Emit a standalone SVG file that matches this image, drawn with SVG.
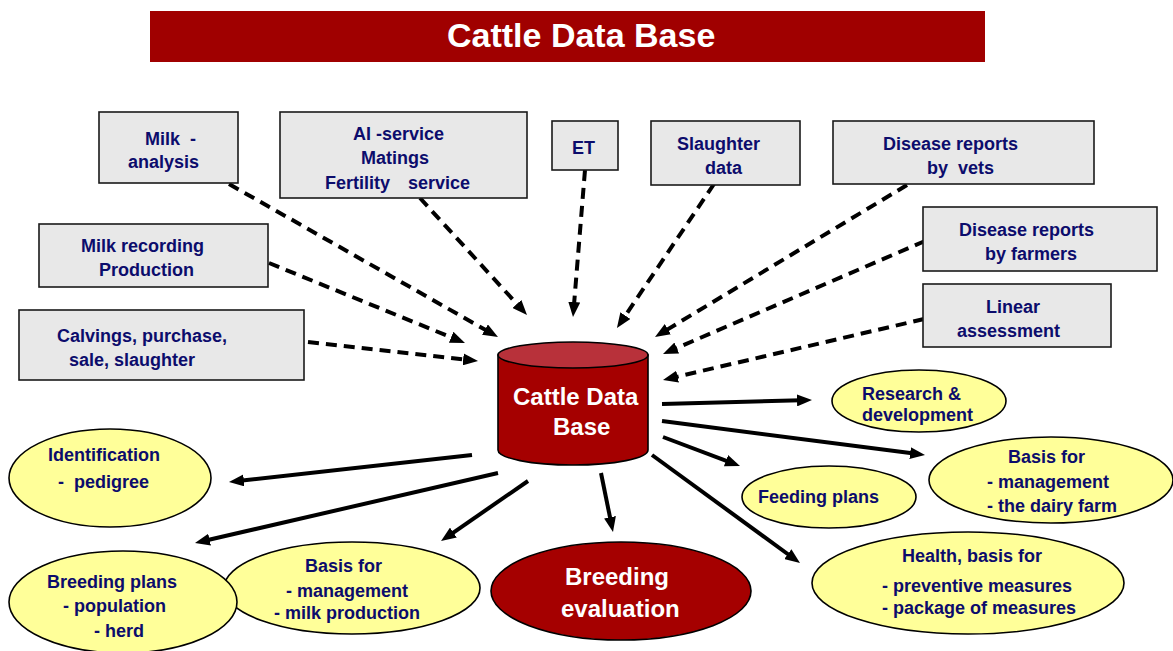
<svg xmlns="http://www.w3.org/2000/svg" width="1173" height="651" viewBox="0 0 1173 651">
<style>
text{white-space:pre}
.t{font-family:"Liberation Sans",Arial,sans-serif;font-weight:bold;font-size:18px;fill:#0c0c6c}
.w{font-family:"Liberation Sans",Arial,sans-serif;font-weight:bold;fill:#ffffff}
.box{fill:#e8e8e8;stroke:#1a1a1a;stroke-width:1.6}
.yel{fill:#ffff99;stroke:#000;stroke-width:1.6}
.dash{stroke:#000;stroke-width:4;fill:none;stroke-dasharray:11 7;marker-end:url(#ah)}
.solid{stroke:#000;stroke-width:4;fill:none;marker-end:url(#ah)}
</style>
<defs>
<marker id="ah" viewBox="0 0 15 12" refX="4" refY="6" markerWidth="15" markerHeight="12" markerUnits="userSpaceOnUse" orient="auto">
<path d="M0,0 L15,6 L0,12 z" fill="#000"/>
</marker>
</defs>
<rect width="1173" height="651" fill="#fff"/>
<g id="title">
<rect x="150" y="11" width="835" height="51" fill="#a00000"/>
<text class="w" x="447" y="47" font-size="34">Cattle Data Base</text>
</g>
<g id="connectors">
<line class="dash" x1="229" y1="184" x2="488.4" y2="331.6"/>
<line class="dash" x1="420" y1="198" x2="519.6" y2="306.9"/>
<line class="dash" x1="585" y1="170" x2="573.9" y2="306"/>
<line class="dash" x1="714" y1="184" x2="623.1" y2="318.9"/>
<line class="dash" x1="907" y1="185" x2="664.4" y2="331.3"/>
<line class="dash" x1="925" y1="241" x2="673.1" y2="349.6"/>
<line class="dash" x1="924" y1="319" x2="673.7" y2="377.5"/>
<line class="dash" x1="269" y1="263" x2="454.8" y2="338.8"/>
<line class="dash" x1="308" y1="342" x2="467.1" y2="359.8"/>
<line class="solid" x1="662" y1="404" x2="801" y2="400.3"/>
<line class="solid" x1="662" y1="421" x2="914.1" y2="453.6"/>
<line class="solid" x1="663" y1="437" x2="729.7" y2="462.1"/>
<line class="solid" x1="652" y1="455" x2="791.1" y2="556.5"/>
<line class="solid" x1="601" y1="473" x2="610.8" y2="521.2"/>
<line class="solid" x1="528" y1="481" x2="450.1" y2="534.8"/>
<line class="solid" x1="498" y1="473" x2="205.7" y2="540.5"/>
<line class="solid" x1="472" y1="455" x2="239.9" y2="480.8"/>
</g>
<g id="milk-analysis">
<rect class="box" x="99" y="112" width="139" height="71"/>
<text class="t" x="145" y="145">Milk  -</text>
<text class="t" x="128" y="168">analysis</text>
</g>
<g id="ai-service">
<rect class="box" x="280" y="112" width="247" height="86"/>
<text class="t" x="353" y="140">AI -service</text>
<text class="t" x="361" y="164">Matings</text>
<text class="t" x="325" y="189">Fertility</text>
<text class="t" x="408" y="189">service</text>
</g>
<g id="et">
<rect class="box" x="552" y="121" width="66" height="49"/>
<text class="t" x="572" y="154">ET</text>
</g>
<g id="slaughter">
<rect class="box" x="651" y="121" width="149" height="64"/>
<text class="t" x="677" y="150">Slaughter</text>
<text class="t" x="705" y="174">data</text>
</g>
<g id="disease-vets">
<rect class="box" x="833" y="121" width="261" height="63"/>
<text class="t" x="883" y="150">Disease reports</text>
<text class="t" x="927" y="174">by  vets</text>
</g>
<g id="disease-farmers">
<rect class="box" x="923" y="207" width="234" height="64"/>
<text class="t" x="959" y="236">Disease reports</text>
<text class="t" x="985" y="260">by farmers</text>
</g>
<g id="linear">
<rect class="box" x="923" y="284" width="188" height="63"/>
<text class="t" x="986" y="313">Linear</text>
<text class="t" x="957" y="337">assessment</text>
</g>
<g id="milk-recording">
<rect class="box" x="39" y="224" width="229" height="63"/>
<text class="t" x="81" y="252">Milk recording</text>
<text class="t" x="99" y="276">Production</text>
</g>
<g id="calvings">
<rect class="box" x="19" y="310" width="285" height="70"/>
<text class="t" x="57" y="342">Calvings, purchase,</text>
<text class="t" x="69" y="366">sale, slaughter</text>
</g>
<g id="cattle-db">
<path d="M498,355 L498,450 A75,15 0 0 0 648,450 L648,355 Z" fill="#a50000" stroke="#000" stroke-width="1.6"/>
<ellipse cx="573" cy="355" rx="75" ry="13" fill="#b8313a" stroke="#000" stroke-width="1.6"/>
<text class="w" x="513" y="405" font-size="24">Cattle Data</text>
<text class="w" x="553" y="435" font-size="24">Base</text>
</g>
<g id="breeding-evaluation">
<ellipse cx="621" cy="591" rx="130" ry="49" fill="#a50000" stroke="#000" stroke-width="1.6"/>
<text class="w" x="565" y="585" font-size="24">Breeding</text>
<text class="w" x="561" y="617" font-size="24">evaluation</text>
</g>
<g id="research">
<ellipse class="yel" cx="919" cy="401" rx="87" ry="31"/>
<text class="t" x="862" y="400">Research &amp;</text>
<text class="t" x="862" y="421">development</text>
</g>
<g id="basis-dairy">
<ellipse class="yel" cx="1051" cy="480" rx="122" ry="43"/>
<text class="t" x="1008" y="463">Basis for</text>
<text class="t" x="987" y="488">- management</text>
<text class="t" x="987" y="512">- the dairy farm</text>
</g>
<g id="feeding">
<ellipse class="yel" cx="829" cy="497" rx="87" ry="31"/>
<text class="t" x="758" y="503">Feeding plans</text>
</g>
<g id="health">
<ellipse class="yel" cx="968" cy="583" rx="156" ry="51"/>
<text class="t" x="902" y="562">Health, basis for</text>
<text class="t" x="882" y="592">- preventive measures</text>
<text class="t" x="882" y="614">- package of measures</text>
</g>
<g id="identification">
<ellipse class="yel" cx="110" cy="478" rx="101" ry="49"/>
<text class="t" x="48" y="461">Identification</text>
<text class="t" x="58" y="488">-  pedigree</text>
</g>
<g id="basis-milk">
<ellipse class="yel" cx="352" cy="588" rx="128" ry="46"/>
<text class="t" x="305" y="572">Basis for</text>
<text class="t" x="286" y="597">- management</text>
<text class="t" x="274" y="619">- milk production</text>
</g>
<g id="breeding-plans">
<ellipse class="yel" cx="123" cy="602" rx="114" ry="51"/>
<text class="t" x="47" y="588">Breeding plans</text>
<text class="t" x="63" y="612">- population</text>
<text class="t" x="94" y="637">- herd</text>
</g>
</svg>
